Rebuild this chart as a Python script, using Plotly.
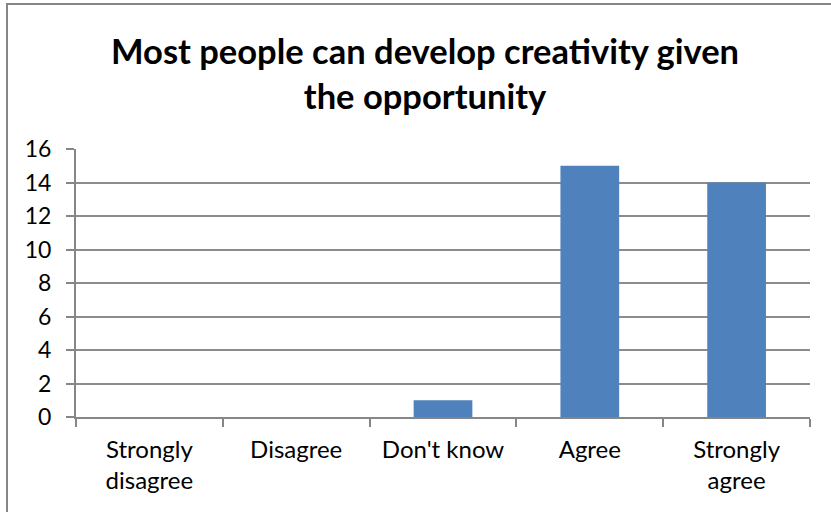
import plotly.graph_objects as go

# Survey responses
categories = ["Strongly<br>disagree", "Disagree", "Don't know", "Agree", "Strongly<br>agree"]
counts = [0, 0, 1, 15, 14]
y_ticks = [0, 2, 4, 6, 8, 10, 12, 14, 16]
title_text = "Most people can develop creativity given<br>the opportunity"

W, H = 831, 512
ML, MR, MT, MB = 76, 21, 149, 95
pw = W - ML - MR
ph = H - MT - MB

font_family = "Lato, Liberation Sans, Arial, sans-serif"
axis_grey = "#868686"


def paper_y(px):
    """Convert a pixel row (from the top of the page) to paper y."""
    return (H - MB - px) / ph


def paper_x(px):
    return (px - ML) / pw


fig = go.Figure(
    go.Bar(
        x=categories,
        y=counts,
        marker=dict(color="#4F81BD", line=dict(width=0)),
        width=0.4,
    )
)

fig.update_layout(
    width=W,
    height=H,
    margin=dict(l=ML, r=MR, t=MT, b=MB),
    paper_bgcolor="white",
    plot_bgcolor="white",
    showlegend=False,
    font=dict(family=font_family, size=23, color="black"),
)

# Title block
fig.add_annotation(
    text="<b>" + title_text + "</b>",
    xref="paper",
    yref="paper",
    x=paper_x(425),
    y=paper_y(73),
    xanchor="center",
    yanchor="middle",
    showarrow=False,
    font=dict(family=font_family, size=34.5, color="black"),
)

fig.update_xaxes(
    showline=True,
    linecolor=axis_grey,
    linewidth=2,
    ticks="outside",
    ticklen=8,
    tickwidth=2,
    tickcolor=axis_grey,
    tickson="boundaries",
    showgrid=False,
    ticklabelstandoff=10,
    tickfont=dict(size=24, family=font_family, color="black"),
    fixedrange=True,
)

fig.update_yaxes(
    range=[0, 16],
    tickvals=y_ticks,
    showline=True,
    linecolor=axis_grey,
    linewidth=2,
    ticks="outside",
    ticklen=8,
    tickwidth=2,
    tickcolor=axis_grey,
    showgrid=True,
    gridcolor="#8C8C8C",
    gridwidth=2,
    zeroline=False,
    ticklabelstandoff=10,
    tickfont=dict(size=23, family=font_family, color="black"),
    fixedrange=True,
)

# Chart frame (left and top edges fall inside the page)
fig.add_shape(
    type="rect",
    xref="paper",
    yref="paper",
    x0=paper_x(7),
    x1=paper_x(W + 10),
    y0=paper_y(H + 10),
    y1=paper_y(4),
    line=dict(color=axis_grey, width=2),
    fillcolor="rgba(0,0,0,0)",
    layer="below",
)

fig.write_html("out.html")
